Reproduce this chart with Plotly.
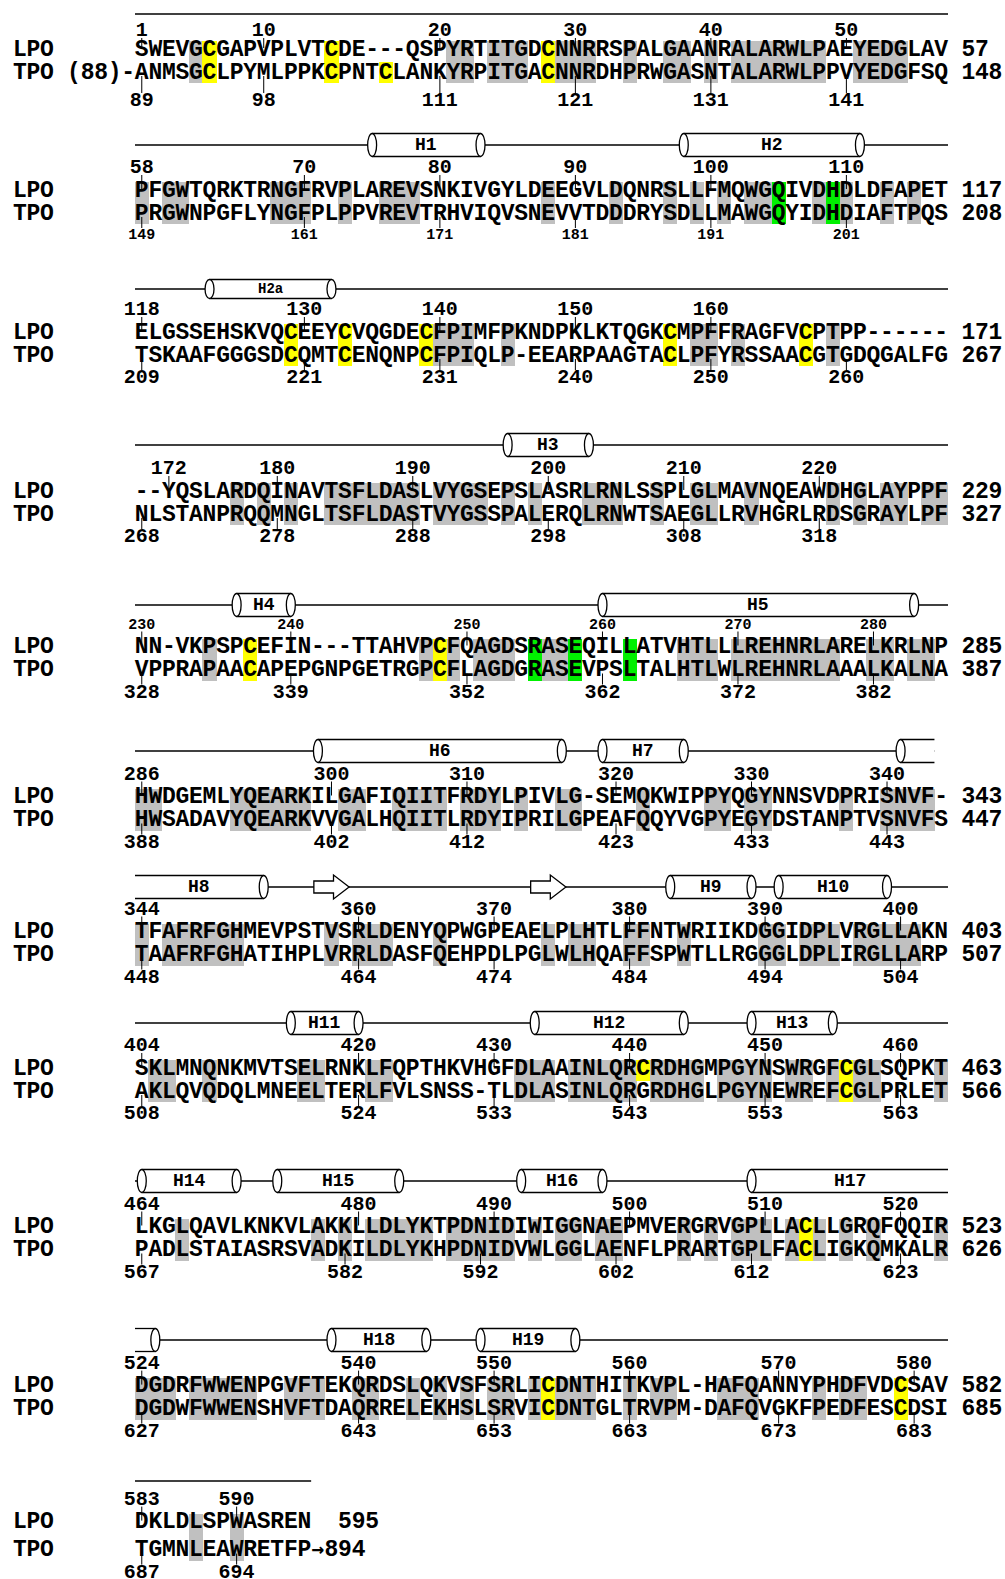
import plotly.graph_objects as go

# ---------------- data ----------------
LPO_SEQ = [
    "SWEVGCGAPVPLVTCDE---QSPYRTITGDCNNRRSPALGAANRALARWLPAEYEDGLAV",
    "PFGWTQRKTRNGFRVPLAREVSNKIVGYLDEEGVLDQNRSLLFMQWGQIVDHDLDFAPET",
    "ELGSSEHSKVQCEEYCVQGDECFPIMFPKNDPKLKTQGKCMPFFRAGFVCPTPP------",
    "--YQSLARDQINAVTSFLDASLVYGSEPSLASRLRNLSSPLGLMAVNQEAWDHGLAYPPF",
    "NN-VKPSPCEFIN---TTAHVPCFQAGDSRASEQILLATVHTLLLREHNRLARELKRLNP",
    "HWDGEMLYQEARKILGAFIQIITFRDYLPIVLG-SEMQKWIPPYQGYNNSVDPRISNVF-",
    "TFAFRFGHMEVPSTVSRLDENYQPWGPEAELPLHTLFFNTWRIIKDGGIDPLVRGLLAKN",
    "SKLMNQNKMVTSELRNKLFQPTHKVHGFDLAAINLQRCRDHGMPGYNSWRGFCGLSQPKT",
    "LKGLQAVLKNKVLAKKLLDLYKTPDNIDIWIGGNAEPMVERGRVGPLLACLLGRQFQQIR",
    "DGDRFWWENPGVFTEKQRDSLQKVSFSRLICDNTHITKVPL-HAFQANNYPHDFVDCSAV",
    "DKLDLSPWASREN",
]
TPO_SEQ = [
    "ANMSGCLPYMLPPKCPNTCLANKYRPITGACNNRDHPRWGASNTALARWLPPVYEDGFSQ",
    "PRGWNPGFLYNGFPLPPVREVTRHVIQVSNEVVTDDDRYSDLLMAWGQYIDHDIAFTPQS",
    "TSKAAFGGGSDCQMTCENQNPCFPIQLP-EEARPAAGTACLPFYRSSAACGTGDQGALFG",
    "NLSTANPRQQMNGLTSFLDASTVYGSSPALERQLRNWTSAEGLLRVHGRLRDSGRAYLPF",
    "VPPRAPAACAPEPGNPGETRGPCFLAGDGRASEVPSLTALHTLWLREHNRLAAALKALNA",
    "HWSADAVYQEARKVVGALHQIITLRDYIPRILGPEAFQQYVGPYEGYDSTANPTVSNVFS",
    "TAAFRFGHATIHPLVRRLDASFQEHPDLPGLWLHQAFFSPWTLLRGGGLDPLIRGLLARP",
    "AKLQVQDQLMNEELTERLFVLSNSS-TLDLASINLQRGRDHGLPGYNEWREFCGLPRLET",
    "PADLSTAIASRSVADKILDLYKHPDNIDVWLGGLAENFLPRARTGPLFACLIGKQMKALR",
    "DGDWFWWENSHVFTDAQRRELEKHSLSRVICDNTGLTRVPM-DAFQVGKFPEDFESCDSI",
    "TGMNLEAWRETFP",
]
LPO_START = [1, 58, 118, 172, 230, 286, 344, 404, 464, 524, 583]
TPO_START = [89, 149, 209, 268, 328, 388, 448, 508, 567, 627, 687]
LPO_END = ["57", "117", "171", "229", "285", "343", "403", "463", "523", "582", "595"]
TPO_END = ["148", "208", "267", "327", "387", "447", "507", "566", "626", "685", "\u2192894"]
TPO_PREFIX = "(88)-"
LPO_TICKS = [[1, 10, 20, 30, 40, 50], [58, 70, 80, 90, 100, 110], [118, 130, 140, 150, 160],
             [172, 180, 190, 200, 210, 220], [230, 240, 250, 260, 270, 280],
             [286, 300, 310, 320, 330, 340], [344, 360, 370, 380, 390, 400],
             [404, 420, 430, 440, 450, 460], [464, 480, 490, 500, 510, 520],
             [524, 540, 550, 560, 570, 580], [583, 590]]
TPO_TICKS = [[89, 98, 111, 121, 131, 141], [149, 161, 171, 181, 191, 201],
             [209, 221, 231, 240, 250, 260], [268, 278, 288, 298, 308, 318],
             [328, 339, 352, 362, 372, 382], [388, 402, 412, 423, 433, 443],
             [448, 464, 474, 484, 494, 504], [508, 524, 533, 543, 553, 563],
             [567, 582, 592, 602, 612, 623], [627, 643, 653, 663, 673, 683], [687, 694]]
GREEN_LPO = [105, 109, 255, 258, 262]
HELICES = [("H1", 75, 83), ("H2", 98, 111), ("H2a", 123, 132), ("H3", 197, 203),
           ("H4", 236, 240), ("H5", 260, 283), ("H6", 299, 317), ("H7", 319, 325),
           ("H8", 341, 353), ("H9", 383, 389), ("H10", 391, 399), ("H11", 415, 420),
           ("H12", 433, 444), ("H13", 449, 455), ("H14", 464, 471), ("H15", 474, 483),
           ("H16", 492, 498), ("H17", 509, 525), ("H18", 538, 545), ("H19", 549, 556)]
STRANDS = [(357, 359), (373, 375)]

# ---------------- layout constants ----------------
W, H = 1005, 1579
X0, CW = 135.0, 13.55
Y_LPO = [50, 191, 333, 492, 647.5, 797.5, 932.5, 1069, 1227.5, 1386.6, 1522.6]
ROW_GAP = [23] * 10 + [28]
Y_LINE = [14, 145, 289, 445, 605, 751, 887, 1023, 1181, 1340, 1481]
LBL_DY = [19] + [23] * 10
BOT_DY = [28] + [22] * 10
SMALL_TOP, SMALL_BOT = {4}, {1}
SEQ_FONT = dict(family="Liberation Mono", size=23, color="black", weight="bold")
ARROW_FONT = dict(family="DejaVu Sans Mono", size=21, color="black", weight="bold")
NUM_FONT = dict(family="Liberation Mono", size=20, color="black", weight="bold")
SMALL_FONT = dict(family="Liberation Mono", size=15, color="black", weight="bold")
GRAY, YELLOW, GREEN = "#C0C0C0", "#FFFF00", "#00F000"


def px2u(px):
    return (px - X0) / CW + 0.5


def res_map(seq, start):
    m, n = {}, start
    for i, ch in enumerate(seq):
        if ch != "-":
            m[n] = i + 1
            n += 1
    return m


fig = go.Figure()
shapes, annotations = [], []

bars = {GRAY: ([], [], []), YELLOW: ([], [], []), GREEN: ([], [], [])}
seq_x, seq_y, seq_t = [], [], []
arr_x, arr_y, arr_t = [], [], []
tick_x, tick_y = [], []
num_x, num_y, num_t = [], [], []
sm_x, sm_y, sm_t = [], [], []


def put_char(ch, x, y):
    if ch == "\u2192":
        arr_x.append(x); arr_y.append(y); arr_t.append(ch)
    else:
        seq_x.append(x); seq_y.append(y); seq_t.append(ch)


for b in range(len(LPO_SEQ)):
    ls, ts = LPO_SEQ[b], TPO_SEQ[b]
    lmap = res_map(ls, LPO_START[b])
    tmap = res_map(ts, TPO_START[b])
    gcols = {lmap[r] for r in GREEN_LPO if r in lmap}
    yl = Y_LPO[b]
    yt = yl + ROW_GAP[b]
    top, mid, bot = yl - 9, (yl + yt) / 2, yt + 10
    n = max(len(ls), len(ts))
    for i in range(n):
        c = i + 1
        lc = ls[i] if i < len(ls) else " "
        tc = ts[i] if i < len(ts) else " "
        cols = []
        for ch in (lc, tc):
            if ch == "C":
                cols.append(YELLOW)
            elif c in gcols:
                cols.append(GREEN)
            elif lc == tc and ch not in "- ":
                cols.append(GRAY)
            else:
                cols.append(None)
        if cols[0] is not None and cols[0] == cols[1]:
            bx, bb, bh = bars[cols[0]]
            bx.append(c); bb.append(top); bh.append(bot - top)
        else:
            if cols[0]:
                bx, bb, bh = bars[cols[0]]
                bx.append(c); bb.append(top); bh.append(mid - top)
            if cols[1]:
                bx, bb, bh = bars[cols[1]]
                bx.append(c); bb.append(mid); bh.append(bot - mid)
        for ch, y in ((lc, yl), (tc, yt)):
            if ch != " ":
                put_char(ch, c, y)
    for name, y in (("LPO", yl), ("TPO", yt)):
        for k, ch in enumerate(name):
            put_char(ch, -8 + k, y)
    if b == 0:
        for k, ch in enumerate(TPO_PREFIX):
            put_char(ch, -len(TPO_PREFIX) + 1 + k, yt)
    if len(ls) == 60:
        lstart, tstart = 62, 62
    else:
        lstart, tstart = len(ls) + 3, len(ts) + 1
    for k, ch in enumerate(LPO_END[b]):
        put_char(ch, lstart + k, yl)
    for k, ch in enumerate(TPO_END[b]):
        put_char(ch, tstart + k, yt)
    # ticks
    ylab = yl - LBL_DY[b]
    ybot = yt + BOT_DY[b]
    for r in LPO_TICKS[b]:
        c = lmap[r]
        tick_x += [c, c, None]; tick_y += [ylab + 7, yl - 2, None]
        if b in SMALL_TOP:
            sm_x.append(c); sm_y.append(ylab + 1); sm_t.append(str(r))
        else:
            num_x.append(c); num_y.append(ylab); num_t.append(str(r))
    for r in TPO_TICKS[b]:
        c = tmap[r]
        tick_x += [c, c, None]; tick_y += [yt + 3, ybot - 8, None]
        if b in SMALL_BOT:
            sm_x.append(c); sm_y.append(ybot - 1); sm_t.append(str(r))
        else:
            num_x.append(c); num_y.append(ybot); num_t.append(str(r))

    # secondary structure
    yc = Y_LINE[b]
    ncol = len(ls)
    bfirst = LPO_START[b]
    blast = max(lmap)
    line_end = ncol + 0.5
    helix_shapes = []
    for lab, s, e in HELICES:
        if e < bfirst or s > blast:
            continue
        open_l, open_r = s < bfirst, e > blast
        xl = 0.5 if open_l else lmap[s]
        xr = (lmap[blast] + 0.5) if open_r else lmap[e]
        if open_r:
            line_end = xr
        hh = 9.5 if lab == "H2a" else 11.5
        rx = 0.33
        helix_shapes.append(dict(type="rect", x0=xl, x1=xr, y0=yc - hh, y1=yc + hh,
                                 fillcolor="white", line=dict(width=0)))
        for yy in (yc - hh, yc + hh):
            helix_shapes.append(dict(type="line", x0=xl, x1=xr, y0=yy, y1=yy,
                                     line=dict(color="black", width=1.3)))
        for xe, op in ((xl, open_l), (xr, open_r)):
            if not op:
                helix_shapes.append(dict(type="circle", x0=xe - rx, x1=xe + rx, y0=yc - hh, y1=yc + hh,
                                         fillcolor="white", line=dict(color="black", width=1.3)))
        seg_len = min(e, blast) - max(s, bfirst)
        if seg_len * 2 >= e - s:
            annotations.append(dict(x=(xl + xr) / 2, y=yc, text=lab, showarrow=False,
                                    font=dict(family="Liberation Mono", color="black", weight="bold",
                                              size=14 if lab == "H2a" else 18),
                                    xanchor="center", yanchor="middle"))
    for s, e in STRANDS:
        if s < bfirst or e > blast:
            continue
        xs, xe = lmap[s] - 0.3, lmap[e] + 0.3
        xh = xe - 1.15
        path = (f"M {xs},{yc-6} L {xh},{yc-6} L {xh},{yc-12} L {xe},{yc} "
                f"L {xh},{yc+12} L {xh},{yc+6} L {xs},{yc+6} Z")
        helix_shapes.append(dict(type="path", path=path, fillcolor="white",
                                 line=dict(color="black", width=1.3)))
    shapes.append(dict(type="line", x0=0.5, x1=line_end, y0=yc, y1=yc,
                       line=dict(color="black", width=1.3)))
    shapes.extend(helix_shapes)

for color, (bx, bb, bh) in bars.items():
    fig.add_trace(go.Bar(x=bx, y=bh, base=bb, width=1.04, marker=dict(color=color, line=dict(width=0)),
                         hoverinfo="skip", showlegend=False))

fig.add_trace(go.Scatter(x=tick_x, y=tick_y, mode="lines", line=dict(color="black", width=1),
                         hoverinfo="skip", showlegend=False))
fig.add_trace(go.Scatter(x=seq_x, y=seq_y, text=seq_t, mode="text", textposition="middle center",
                         textfont=SEQ_FONT, hoverinfo="skip", showlegend=False, cliponaxis=False))
fig.add_trace(go.Scatter(x=arr_x, y=arr_y, text=arr_t, mode="text", textposition="middle center",
                         textfont=ARROW_FONT, hoverinfo="skip", showlegend=False, cliponaxis=False))
fig.add_trace(go.Scatter(x=num_x, y=num_y, text=num_t, mode="text", textposition="middle center",
                         textfont=NUM_FONT, hoverinfo="skip", showlegend=False, cliponaxis=False))
fig.add_trace(go.Scatter(x=sm_x, y=sm_y, text=sm_t, mode="text", textposition="middle center",
                         textfont=SMALL_FONT, hoverinfo="skip", showlegend=False, cliponaxis=False))

fig.update_layout(
    width=W, height=H, autosize=False,
    margin=dict(l=0, r=0, t=0, b=0, pad=0),
    paper_bgcolor="white", plot_bgcolor="white",
    barmode="overlay", bargap=0,
    showlegend=False,
    shapes=shapes, annotations=annotations,
    xaxis=dict(range=[px2u(0), px2u(W)], visible=False, fixedrange=True),
    yaxis=dict(range=[H, 0], visible=False, fixedrange=True),
)

fig.write_html("out.html", config={"displayModeBar": False, "staticPlot": True},
               post_script="document.body.style.margin='0';document.body.style.overflow='hidden';")
